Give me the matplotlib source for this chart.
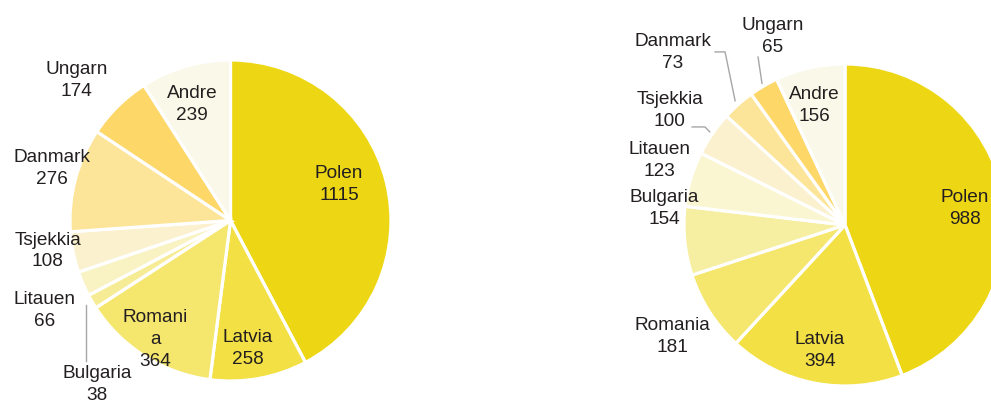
import matplotlib.pyplot as plt
import numpy as np

plt.rcParams['font.family'] = ['Liberation Sans', 'DejaVu Sans']

# Venstre diagram
land_v = ['Polen', 'Latvia', 'Romania', 'Bulgaria', 'Litauen', 'Tsjekkia', 'Danmark', 'Ungarn', 'Andre']
verdi_v = [1115, 258, 364, 38, 66, 108, 276, 174, 239]
etikett_v = ['Polen', 'Latvia', 'Romani\na', 'Bulgaria', 'Litauen', 'Tsjekkia', 'Danmark', 'Ungarn', 'Andre']

# Høyre diagram
land_h = ['Polen', 'Latvia', 'Romania', 'Bulgaria', 'Litauen', 'Tsjekkia', 'Danmark', 'Ungarn', 'Andre']
verdi_h = [988, 394, 181, 154, 123, 100, 73, 65, 156]

farger_v = ['#EDD715', '#F2E044', '#F5E66E', '#F6EC95', '#F9F3C4', '#FBF1CF', '#FCE598', '#FDD768', '#FAF8E8']
farger_h = ['#EDD715', '#F2E044', '#F5E66E', '#F6EEA0', '#FAF6D2', '#FBF1CF', '#FCE598', '#FDD768', '#FAF8E8']

# Plassering av etiketter (dataenheter, radius = 1)
pos_v = [(0.675, 0.225), (0.106, -0.80), (-0.47, -0.74), (-0.83, -1.02), (-1.16, -0.56),
         (-1.14, -0.19), (-1.11, 0.325), (-0.96, 0.875), (-0.24, 0.725)]
pos_h = [(0.745, 0.105), (-0.155, -0.78), (-1.07, -0.69), (-1.12, 0.105), (-1.15, 0.40),
         (-1.09, 0.71), (-1.07, 1.07), (-0.45, 1.17), (-0.19, 0.745)]

tekstfarge = '#231F20'
linjefarge = '#A6A6A6'

fig = plt.figure(figsize=(9.91, 4.01), dpi=100)
ax1 = fig.add_axes([70 / 991, 20 / 401, 321 / 991, 321 / 401])
ax2 = fig.add_axes([684 / 991, 15 / 401, 322 / 991, 322 / 401])


def tegn_kake(ax, verdier, farger, etiketter, posisjoner):
    wedges, _ = ax.pie(verdier, colors=farger, startangle=90, counterclock=False,
                       radius=1, wedgeprops=dict(edgecolor='white', linewidth=2.3))
    for (x, y), lab, v in zip(posisjoner, etiketter, verdier):
        ax.text(x, y, f'{lab}\n{v}', ha='center', va='center', fontsize=13.7,
                color=tekstfarge, linespacing=1.38, clip_on=False)
    ax.set_xlim(-1, 1)
    ax.set_ylim(-1, 1)
    ax.set_aspect('equal')
    ax.axis('off')
    return wedges


def midtpunkt(w, r=1.0):
    a = np.deg2rad((w.theta1 + w.theta2) / 2)
    return r * np.cos(a), r * np.sin(a)


w1 = tegn_kake(ax1, verdi_v, farger_v, etikett_v, pos_v)
w2 = tegn_kake(ax2, verdi_h, farger_h, land_h, pos_h)

# Linjer til små sektorer
bx, by = midtpunkt(w1[3], 1.04)
ax1.plot([bx, bx], [by, -0.875], color=linjefarge, lw=1, clip_on=False)

tx, ty = midtpunkt(w2[5], 1.02)
ax2.plot([-0.95, -0.87, tx], [0.609, 0.609, ty], color=linjefarge, lw=1, clip_on=False)
dx, dy = midtpunkt(w2[6], 1.03)
ax2.plot([-0.807, -0.745, dx], [1.075, 1.075, dy], color=linjefarge, lw=1, clip_on=False)
ux, uy = midtpunkt(w2[7], 1.02)
ax2.plot([-0.54, ux], [1.043, uy], color=linjefarge, lw=1, clip_on=False)

fig.savefig('out.png', dpi=100)
